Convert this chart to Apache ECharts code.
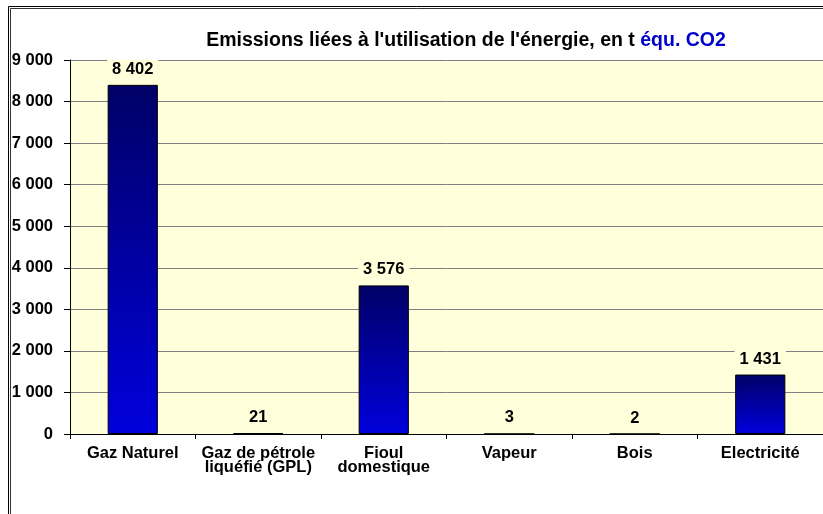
<!DOCTYPE html>
<html>
<head>
<meta charset="utf-8">
<script src="https://cdn.jsdelivr.net/npm/echarts@6/dist/echarts.min.js"></script>
<style>
  html, body { margin: 0; padding: 0; background: #fff; }
  #chart { width: 823px; height: 514px; }
</style>
</head>
<body>
<div id="chart"></div>
<script>
// categories et valeurs (t équ. CO2)
const categories = [
  'Gaz Naturel',
  'Gaz de pétrole\nliquéfié (GPL)',
  'Fioul\ndomestique',
  'Vapeur',
  'Bois',
  'Electricité'
]
const emissions = [8402, 21, 3576, 3, 2, 1431]
const yTicks = [0, 1000, 2000, 3000, 4000, 5000, 6000, 7000, 8000, 9000]

const plotBg = '#FFFFDB'
const font = '"Liberation Sans", Arial, sans-serif'

function fmt(v) {
  return String(v).replace(/\B(?=(\d{3})+(?!\d))/g, ' ')
}

const chart = echarts.init(document.getElementById('chart'))
chart.setOption({
  backgroundColor: '#fff',
  animation: false,
  title: {
    text: '{a|Emissions liées à l\'utilisation de l\'énergie, en t }{b|équ. CO2}',
    left: 461,
    top: 26,
    textAlign: 'center',
    textStyle: {
      rich: {
        a: { fontFamily: font, fontSize: 19.5, fontWeight: 'bold', color: '#000' },
        b: { fontFamily: font, fontSize: 19.5, fontWeight: 'bold', color: '#0000CC' }
      }
    }
  },
  graphic: [
    // cadre extérieur (double trait)
    { type: 'polyline', shape: { points: [[8.5, 520], [8.5, 6.5], [830, 6.5]] }, style: { stroke: '#000', lineWidth: 1, fill: null } },
    { type: 'polyline', shape: { points: [[10.5, 520], [10.5, 8.5], [830, 8.5]] }, style: { stroke: '#333', lineWidth: 1, fill: null } }
  ],
  grid: {
    left: 70,
    top: 60,
    right: -9,
    bottom: 80,
    show: true,
    backgroundColor: plotBg,
    borderWidth: 0
  },
  xAxis: {
    type: 'category',
    data: categories,
    axisLine: { lineStyle: { color: '#000', width: 1 } },
    axisTick: { show: true, interval: 0, length: 5, lineStyle: { color: '#000' } },
    axisLabel: {
      interval: 0,
      margin: 12,
      fontFamily: font,
      fontSize: 16.5,
      fontWeight: 'bold',
      color: '#000',
      lineHeight: 14
    }
  },
  yAxis: {
    type: 'value',
    min: yTicks[0],
    max: yTicks[yTicks.length - 1],
    interval: 1000,
    axisLine: { show: true, lineStyle: { color: '#000', width: 1 } },
    axisTick: { show: true, length: 6, lineStyle: { color: '#000' } },
    splitLine: { lineStyle: { color: '#808080', width: 1 } },
    axisLabel: {
      margin: 17,
      fontFamily: font,
      fontSize: 16.5,
      fontWeight: 'bold',
      color: '#000',
      formatter: fmt
    }
  },
  series: [{
    type: 'bar',
    data: emissions,
    barWidth: '40%',
    itemStyle: {
      color: new echarts.graphic.LinearGradient(0, 0, 0, 1, [
        { offset: 0, color: '#000066' },
        { offset: 1, color: '#0000DD' }
      ]),
      borderColor: '#000',
      borderWidth: 1
    },
    label: {
      show: true,
      position: 'top',
      distance: 6,
      fontFamily: font,
      fontSize: 16.5,
      fontWeight: 'bold',
      color: '#000',
      backgroundColor: plotBg,
      padding: [1, 5],
      formatter: p => fmt(p.value)
    }
  }]
})
</script>
</body>
</html>
